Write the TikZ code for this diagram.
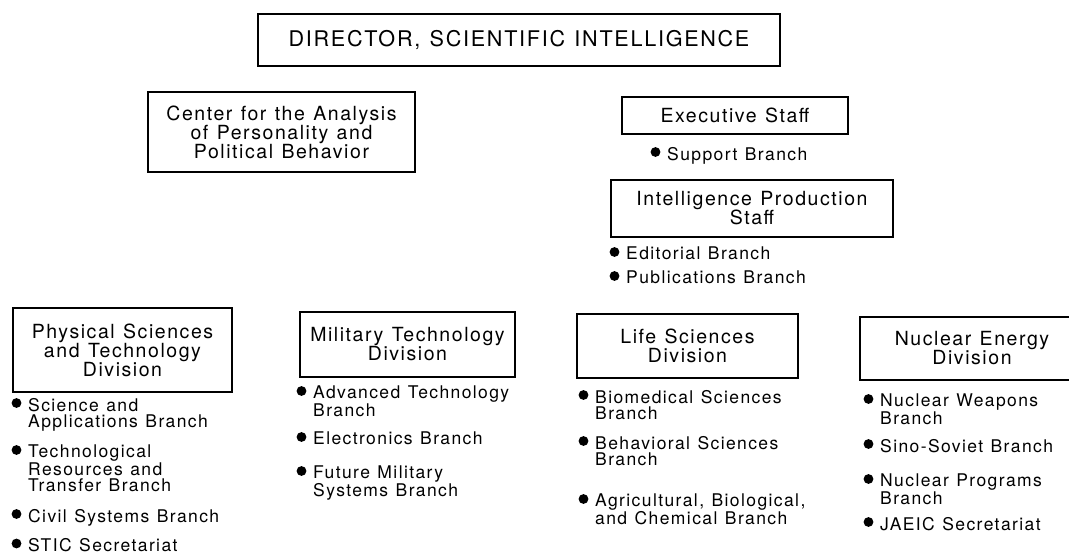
\documentclass[tikz,border=0pt]{standalone}
\usepackage{fontspec}
\setmainfont[LetterSpace=8,WordSpace=1.2]{TeX Gyre Heros}

\newcommand{\headfont}{\fontsize{21.6}{24}\selectfont}
\newcommand{\unitfont}{\fontsize{19.5}{19}\selectfont}
\newcommand{\branchfont}{\fontsize{17.5}{16}\selectfont}

\tikzset{
  unit/.style={draw, line width=1.3pt, inner sep=0pt, align=center, font=\unitfont},
  branch/.style={anchor=north west, inner sep=0pt, align=left, font=\branchfont}
}

\begin{document}
\begin{tikzpicture}[x=1pt,y=-1pt]
        \useasboundingbox (0,0) rectangle (1069,554);
        \clip (0,0) rectangle (1069,554);

        % Leitung oben
        \node[unit, minimum width=522pt, minimum height=52pt, font=\headfont] (dsi) at (519,40) {DIRECTOR, SCIENTIFIC INTELLIGENCE};

        % Stabsstellen
        \node[unit, minimum width=267pt, minimum height=80pt] (capb) at (281.5,132) {Center for the Analysis\\of Personality and\\Political Behavior};
        \node[unit, minimum width=226pt, minimum height=37pt] (exs) at (735,115.5) {Executive Staff};
        \node[unit, minimum width=282pt, minimum height=57pt] (ips) at (752,208.5) {Intelligence Production\\Staff};

        % Branches der Stabsstellen
        \node[branch] (spb) at (667,147) {Support Branch};
        \node[branch] (edb) at (626,247) {Editorial Branch};
        \node[branch] (pub) at (626,271) {Publications Branch};

        % Divisionen
        \node[unit, minimum width=219pt, minimum height=84pt] (pstd) at (122.5,350) {Physical Sciences\\and Technology\\Division};
        \node[unit, minimum width=215pt, minimum height=65pt] (mtd) at (407.5,344.5) {Military Technology\\Division};
        \node[unit, minimum width=221pt, minimum height=64pt] (lsd) at (687.5,346) {Life Sciences\\Division};
        \node[unit, minimum width=224pt, minimum height=63pt] (ned) at (972,348.5) {Nuclear Energy\\Division};

        % Physical Sciences and Technology
        \node[branch] (sab) at (28,398) {Science and\\Applications Branch};
        \node[branch] (trt) at (28,445) {Technological\\Resources and\\Transfer Branch};
        \node[branch] (csb) at (28,509) {Civil Systems Branch};
        \node[branch] (stic) at (28,538.5) {STIC Secretariat};

        % Military Technology
        \node[branch] (atb) at (313,386) {Advanced Technology\\Branch};
        \node[branch] (elb) at (313,432) {Electronics Branch};
        \node[branch] (fms) at (313,466) {Future Military\\Systems Branch};

        % Life Sciences
        \node[branch] (bms) at (595,390) {Biomedical Sciences\\Branch};
        \node[branch] (bhs) at (595,436) {Behavioral Sciences\\Branch};
        \node[branch] (abc) at (595,494) {Agricultural, Biological,\\and Chemical Branch};

        % Nuclear Energy
        \node[branch] (nwb) at (880,394) {Nuclear Weapons\\Branch};
        \node[branch] (ssb) at (880,439) {Sino-Soviet Branch};
        \node[branch] (npb) at (880,474) {Nuclear Programs\\Branch};
        \node[branch] (jaeic) at (880,517) {JAEIC Secretariat};

        % Punkte vor den Branches
        \foreach \b in {spb,edb,pub,sab,trt,csb,stic,atb,elb,fms,bms,bhs,abc,nwb,ssb,npb,jaeic}
            \fill ([xshift=-11.5pt,yshift=-5pt]\b.north west) circle (4.9pt);
    \end{tikzpicture}
\end{document}
